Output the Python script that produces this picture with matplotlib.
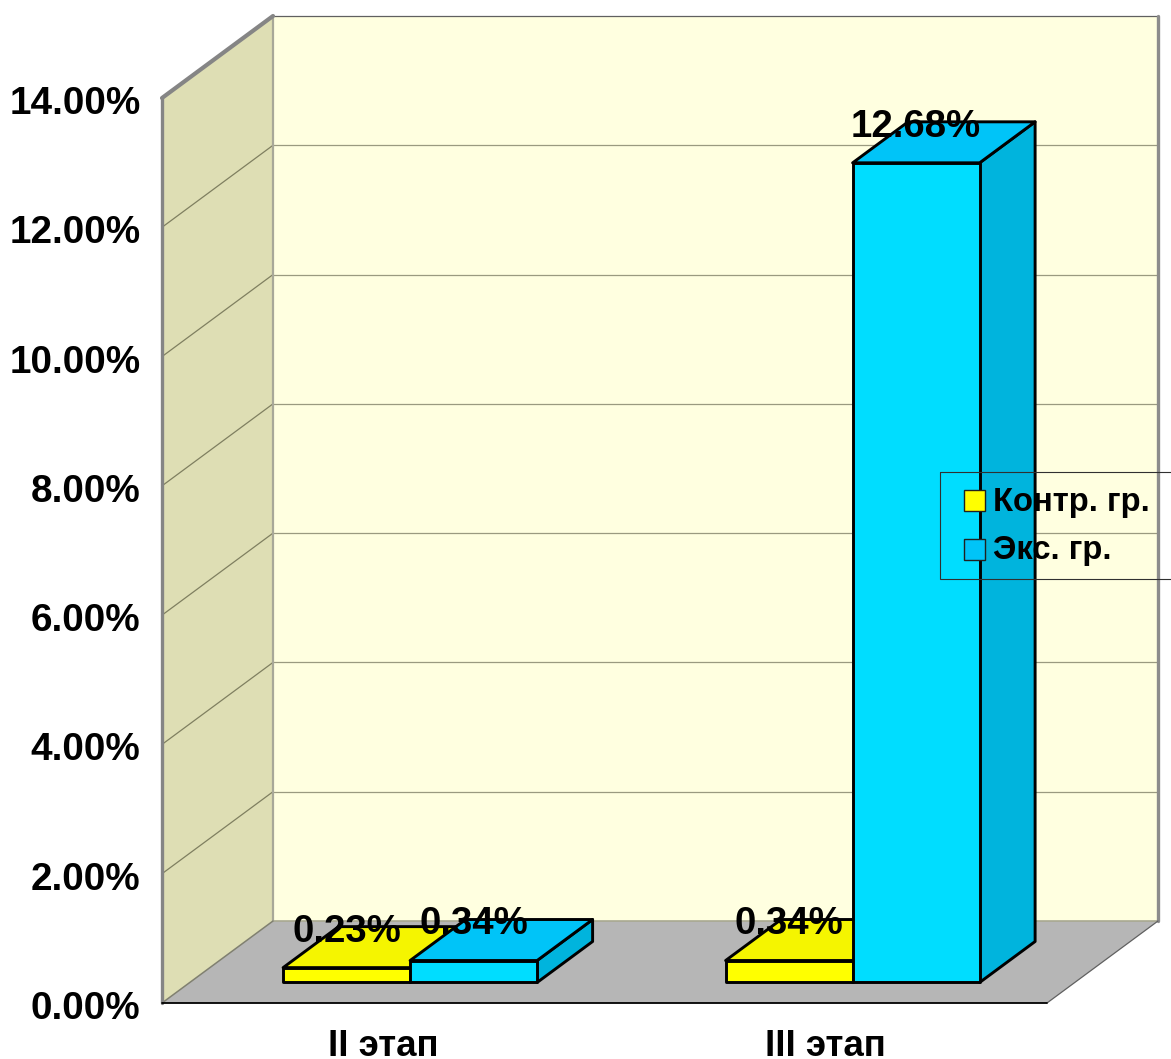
import matplotlib
matplotlib.use("Agg")
import matplotlib.pyplot as plt
from matplotlib.patches import Polygon, Rectangle
from matplotlib.transforms import ScaledTranslation

# values, in percent
stages = ["II этап", "III этап"]
series_names = ["Контр. гр.", "Экс. гр."]
control = [0.23, 0.34]
experimental = [0.34, 12.68]
y_ticks = [0, 2, 4, 6, 8, 10, 12, 14]

W, H = 1171, 1059
plt.rcParams['font.family'] = ['Liberation Sans', 'DejaVu Sans']
plt.rcParams['font.weight'] = 'bold'

# depth of the box in data units
DX = 111 / 442.5
DY = 82 / 64.64
BAR_W = 0.287

YELLOW = ("#ffff00", "#f5f500", "#d8d800")
BLUE = ("#00ddff", "#00c4f8", "#00b4dd")


def proj(x, y, d=0.0):
    return (x + d * DX, y + d * DY)


fig = plt.figure(figsize=(W / 100, H / 100), dpi=100)
ax = fig.add_axes([162 / W, 1 - 1003 / H, 885 / W, 905 / H])
ax.set_xlim(0, 2)
ax.set_ylim(0, 14)
ax.patch.set_visible(False)
for s in ax.spines.values():
    s.set_visible(False)


def face(points, color, edge="none", lw=0.0, z=1):
    ax.add_patch(Polygon(points, closed=True, facecolor=color, edgecolor=edge,
                         linewidth=lw, clip_on=False, zorder=z, joinstyle="round"))


def seg(p, q, color, lw, z=2):
    ax.plot([p[0], q[0]], [p[1], q[1]], color=color, linewidth=lw,
            clip_on=False, zorder=z, solid_capstyle="round")


top = y_ticks[-1]
# walls and floor
face([proj(0, 0, 1), proj(2, 0, 1), proj(2, top, 1), proj(0, top, 1)], "#ffffe0")
face([proj(0, 0), proj(0, 0, 1), proj(0, top, 1), proj(0, top)], "#dedeb4")
face([proj(0, 0), proj(2, 0), proj(2, 0, 1), proj(0, 0, 1)], "#b6b6b6")

for v in y_ticks[1:-1]:
    seg(proj(0, v), proj(0, v, 1), "#7f7f60", 0.9)
    seg(proj(0, v, 1), proj(2, v, 1), "#9a9a80", 0.9)
seg(proj(0, top, 1), proj(2, top, 1), "#606060", 0.9)
seg(proj(0, 0, 1), proj(2, 0, 1), "#a8a890", 1.2)
seg(proj(0, 0, 1), proj(0, top, 1), "#a8a898", 1.6)
seg(proj(2, 0, 1), proj(2, top, 1), "#8c8c8c", 2.4)
seg(proj(0, 0), proj(0, 0, 1), "#808070", 1.1)
seg(proj(2, 0), proj(2, 0, 1), "#606060", 0.9)
seg(proj(0, 0), proj(0, top), "#858585", 2.4)
seg(proj(0, top), proj(0, top, 1), "#858585", 3.0)
seg(proj(0, 0), proj(2, 0), "#000000", 1.3, z=3)


def draw_bar(x0, value, colors):
    x1 = x0 + BAR_W
    d0, d1 = 0.25, 0.75
    kw = dict(edge="#000000", lw=2.1, z=4)
    face([proj(x1, 0, d0), proj(x1, 0, d1), proj(x1, value, d1), proj(x1, value, d0)], colors[2], **kw)
    face([proj(x0, value, d0), proj(x1, value, d0), proj(x1, value, d1), proj(x0, value, d1)], colors[1], **kw)
    face([proj(x0, 0, d0), proj(x1, 0, d0), proj(x1, value, d0), proj(x0, value, d0)], colors[0], **kw)


def value_label(x0, value):
    ax.annotate(f"{value:.2f}%", proj(x0 + BAR_W / 2, value, 0.25), xytext=(0, 26),
                textcoords="offset points", ha="center", va="center",
                fontsize=27.6, color="#000000", zorder=6, annotation_clip=False)


for i in range(len(stages)):
    center = i + 0.498
    draw_bar(center - BAR_W, control[i], YELLOW)
    draw_bar(center, experimental[i], BLUE)

for i in range(len(stages)):
    center = i + 0.498
    value_label(center - BAR_W, control[i])
    value_label(center, experimental[i])

ax.set_yticks(y_ticks)
ax.set_yticklabels([f"{v:.2f}%" for v in y_ticks])
ax.set_xticks([i + 0.5 for i in range(len(stages))])
ax.set_xticklabels(stages)
ax.tick_params(axis="y", length=0, pad=15.5, labelsize=27.8)
ax.tick_params(axis="x", length=0, pad=19, labelsize=26.4)

# y labels sit slightly below their gridline
shift = ScaledTranslation(0, -2 / 100, fig.dpi_scale_trans)
for lab in ax.get_yticklabels():
    lab.set_transform(lab.get_transform() + shift)

# legend box runs off the right edge of the figure
overlay = fig.add_axes([0, 0, 1, 1])
overlay.set_xlim(0, W)
overlay.set_ylim(H, 0)
overlay.axis("off")
overlay.add_patch(Rectangle((939.5, 471.5), 260, 107.5, fill=False, edgecolor="#303030", linewidth=0.8))
for name, color, yc in zip(series_names, [YELLOW[0], BLUE[1]], [500.5, 549]):
    overlay.add_patch(Rectangle((964, yc - 10.5), 21, 21, facecolor=color, edgecolor="#202020", linewidth=1.0))
    overlay.text(993, yc + 2, name, fontsize=23.6, va="center", ha="left", color="#000000")

fig.savefig("out.png", dpi=100)
